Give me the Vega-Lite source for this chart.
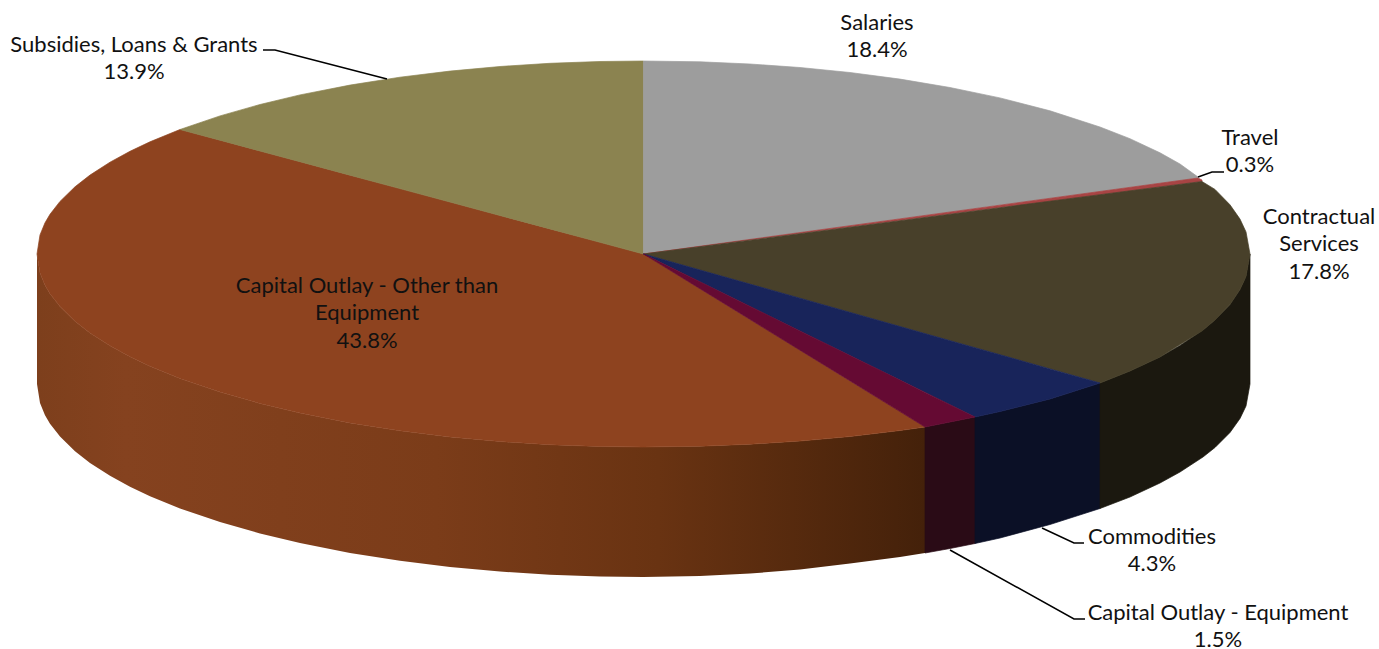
{"$schema":"https://vega.github.io/schema/vega-lite/v6.json","width":1379,"height":649,"padding":0,"autosize":{"type":"none"},"background":"white","view":{"stroke":null},
"datasets":{"pieces":[
{"piece":"Side Other","x":37,"y":254,"y2":384},{"piece":"Side Other","x":40,"y":273.1,"y2":403.1},{"piece":"Side Other","x":45,"y":285.2,"y2":415.2},{"piece":"Side Other","x":50,"y":293.7,"y2":423.7},{"piece":"Side Other","x":60,"y":306.6,"y2":436.6},{"piece":"Side Other","x":75,"y":321.2,"y2":451.2},{"piece":"Side Other","x":90,"y":332.9,"y2":462.9},{"piece":"Side Other","x":110,"y":345.8,"y2":475.8},{"piece":"Side Other","x":130,"y":356.7,"y2":486.7},{"piece":"Side Other","x":150,"y":366.2,"y2":496.2},{"piece":"Side Other","x":180,"y":378.5,"y2":508.5},{"piece":"Side Other","x":220,"y":392.1,"y2":522.1},{"piece":"Side Other","x":260,"y":403.5,"y2":533.5},{"piece":"Side Other","x":300,"y":413.1,"y2":543.1},{"piece":"Side Other","x":350,"y":422.9,"y2":552.9},{"piece":"Side Other","x":400,"y":430.8,"y2":560.8},{"piece":"Side Other","x":450,"y":436.9,"y2":566.9},{"piece":"Side Other","x":500,"y":441.5,"y2":571.5},{"piece":"Side Other","x":550,"y":444.7,"y2":574.7},{"piece":"Side Other","x":600,"y":446.5,"y2":576.5},{"piece":"Side Other","x":643.5,"y":447,"y2":577},{"piece":"Side Other","x":700,"y":446.2,"y2":576},{"piece":"Side Other","x":750,"y":444.2,"y2":573.6},{"piece":"Side Other","x":800,"y":441,"y2":569.5},{"piece":"Side Other","x":850,"y":436.5,"y2":563.5},{"piece":"Side Other","x":900,"y":430.5,"y2":557},{"piece":"Side Other","x":925,"y":427,"y2":553},
{"piece":"Side Equipment","x":925,"y":427,"y2":553},{"piece":"Side Equipment","x":950,"y":422,"y2":548.5},{"piece":"Side Equipment","x":975,"y":417,"y2":543.5},
{"piece":"Side Commodities","x":975,"y":417,"y2":543.5},{"piece":"Side Commodities","x":1000,"y":411.5,"y2":538},{"piece":"Side Commodities","x":1050,"y":399,"y2":524.5},{"piece":"Side Commodities","x":1100,"y":383,"y2":508.5},
{"piece":"Side Contractual","x":1100,"y":383,"y2":508.5},{"piece":"Side Contractual","x":1130,"y":371,"y2":497},{"piece":"Side Contractual","x":1160,"y":357,"y2":483},{"piece":"Side Contractual","x":1180,"y":345.5,"y2":472},{"piece":"Side Contractual","x":1203,"y":330,"y2":457},{"piece":"Side Contractual","x":1215,"y":320,"y2":447.5},{"piece":"Side Contractual","x":1230,"y":304.5,"y2":432.5},{"piece":"Side Contractual","x":1240,"y":289.5,"y2":418.5},{"piece":"Side Contractual","x":1246,"y":276.5,"y2":406},{"piece":"Side Contractual","x":1250,"y":254,"y2":384},
{"piece":"Capital Outlay - Other than Equipment","x":37,"y":254,"y2":254},{"piece":"Capital Outlay - Other than Equipment","x":40,"y":234.9,"y2":273.1},{"piece":"Capital Outlay - Other than Equipment","x":45,"y":222.8,"y2":285.2},{"piece":"Capital Outlay - Other than Equipment","x":50,"y":214.3,"y2":293.7},{"piece":"Capital Outlay - Other than Equipment","x":60,"y":201.4,"y2":306.6},{"piece":"Capital Outlay - Other than Equipment","x":75,"y":186.8,"y2":321.2},{"piece":"Capital Outlay - Other than Equipment","x":90,"y":175.1,"y2":332.9},{"piece":"Capital Outlay - Other than Equipment","x":110,"y":162.2,"y2":345.8},{"piece":"Capital Outlay - Other than Equipment","x":130,"y":151.3,"y2":356.7},{"piece":"Capital Outlay - Other than Equipment","x":150,"y":141.8,"y2":366.2},{"piece":"Capital Outlay - Other than Equipment","x":180,"y":129.5,"y2":378.5},{"piece":"Capital Outlay - Other than Equipment","x":220,"y":140.2,"y2":392.1},{"piece":"Capital Outlay - Other than Equipment","x":260,"y":151,"y2":403.5},{"piece":"Capital Outlay - Other than Equipment","x":300,"y":161.7,"y2":413.1},{"piece":"Capital Outlay - Other than Equipment","x":350,"y":175.2,"y2":422.9},{"piece":"Capital Outlay - Other than Equipment","x":400,"y":188.6,"y2":430.8},{"piece":"Capital Outlay - Other than Equipment","x":450,"y":202,"y2":436.9},{"piece":"Capital Outlay - Other than Equipment","x":500,"y":215.5,"y2":441.5},{"piece":"Capital Outlay - Other than Equipment","x":550,"y":228.9,"y2":444.7},{"piece":"Capital Outlay - Other than Equipment","x":600,"y":242.3,"y2":446.5},{"piece":"Capital Outlay - Other than Equipment","x":643.5,"y":254,"y2":447},{"piece":"Capital Outlay - Other than Equipment","x":700,"y":288.7,"y2":446.2},{"piece":"Capital Outlay - Other than Equipment","x":750,"y":319.4,"y2":444.2},{"piece":"Capital Outlay - Other than Equipment","x":800,"y":350.2,"y2":441},{"piece":"Capital Outlay - Other than Equipment","x":850,"y":380.9,"y2":436.5},{"piece":"Capital Outlay - Other than Equipment","x":900,"y":411.6,"y2":430.5},{"piece":"Capital Outlay - Other than Equipment","x":925,"y":427,"y2":427},
{"piece":"Subsidies, Loans & Grants","x":180,"y":129.5,"y2":129.5},{"piece":"Subsidies, Loans & Grants","x":220,"y":115.9,"y2":140.2},{"piece":"Subsidies, Loans & Grants","x":260,"y":104.5,"y2":151},{"piece":"Subsidies, Loans & Grants","x":300,"y":94.9,"y2":161.7},{"piece":"Subsidies, Loans & Grants","x":350,"y":85.1,"y2":175.2},{"piece":"Subsidies, Loans & Grants","x":400,"y":77.2,"y2":188.6},{"piece":"Subsidies, Loans & Grants","x":450,"y":71.1,"y2":202},{"piece":"Subsidies, Loans & Grants","x":500,"y":66.5,"y2":215.5},{"piece":"Subsidies, Loans & Grants","x":550,"y":63.3,"y2":228.9},{"piece":"Subsidies, Loans & Grants","x":600,"y":61.5,"y2":242.3},{"piece":"Subsidies, Loans & Grants","x":643.5,"y":61,"y2":254},
{"piece":"Salaries","x":643.5,"y":61,"y2":254},{"piece":"Salaries","x":700,"y":61.8,"y2":246.3},{"piece":"Salaries","x":750,"y":64,"y2":239.4},{"piece":"Salaries","x":800,"y":67.5,"y2":232.6},{"piece":"Salaries","x":850,"y":72.5,"y2":225.7},{"piece":"Salaries","x":900,"y":79.1,"y2":218.8},{"piece":"Salaries","x":950,"y":87.5,"y2":212},{"piece":"Salaries","x":1000,"y":97.9,"y2":205.1},{"piece":"Salaries","x":1050,"y":110.8,"y2":198.3},{"piece":"Salaries","x":1100,"y":127,"y2":191.4},{"piece":"Salaries","x":1130,"y":138.7,"y2":187.3},{"piece":"Salaries","x":1160,"y":152.8,"y2":183.2},{"piece":"Salaries","x":1180,"y":164,"y2":180.5},{"piece":"Salaries","x":1198,"y":177,"y2":178},
{"piece":"Travel","x":643.5,"y":254,"y2":254},{"piece":"Travel","x":1198,"y":178,"y2":182},{"piece":"Travel","x":1202,"y":180,"y2":181.5},
{"piece":"Contractual Services","x":643.5,"y":254,"y2":254},{"piece":"Contractual Services","x":700,"y":246.7,"y2":270},{"piece":"Contractual Services","x":800,"y":233.7,"y2":298.2},{"piece":"Contractual Services","x":900,"y":220.7,"y2":326.5},{"piece":"Contractual Services","x":1000,"y":207.7,"y2":354.7},{"piece":"Contractual Services","x":1100,"y":194.7,"y2":383},{"piece":"Contractual Services","x":1130,"y":190.8,"y2":371},{"piece":"Contractual Services","x":1160,"y":186.9,"y2":357},{"piece":"Contractual Services","x":1202,"y":181.5,"y2":331},{"piece":"Contractual Services","x":1215,"y":189.4,"y2":320},{"piece":"Contractual Services","x":1230,"y":204.8,"y2":304.5},{"piece":"Contractual Services","x":1240,"y":219.1,"y2":289.5},{"piece":"Contractual Services","x":1246,"y":231.9,"y2":276.5},{"piece":"Contractual Services","x":1250,"y":254,"y2":254},
{"piece":"Commodities","x":643.5,"y":254,"y2":254},{"piece":"Commodities","x":700,"y":270,"y2":281.8},{"piece":"Commodities","x":800,"y":298.2,"y2":331},{"piece":"Commodities","x":900,"y":326.5,"y2":380.1},{"piece":"Commodities","x":975,"y":347.7,"y2":417},{"piece":"Commodities","x":1000,"y":354.7,"y2":411.5},{"piece":"Commodities","x":1050,"y":368.9,"y2":399},{"piece":"Commodities","x":1100,"y":383,"y2":383},
{"piece":"Capital Outlay - Equipment","x":643.5,"y":254,"y2":254},{"piece":"Capital Outlay - Equipment","x":700,"y":281.8,"y2":288.7},{"piece":"Capital Outlay - Equipment","x":800,"y":331,"y2":350.2},{"piece":"Capital Outlay - Equipment","x":900,"y":380.1,"y2":411.6},{"piece":"Capital Outlay - Equipment","x":925,"y":392.4,"y2":427},{"piece":"Capital Outlay - Equipment","x":950,"y":404.7,"y2":422},{"piece":"Capital Outlay - Equipment","x":975,"y":417,"y2":417}
],
"leaders":[
{"leader":"Subsidies","step":1,"x":263,"y":50},{"leader":"Subsidies","step":2,"x":275,"y":50},{"leader":"Subsidies","step":3,"x":387,"y":79},
{"leader":"Travel","step":1,"x":1198,"y":177},{"leader":"Travel","step":2,"x":1212,"y":172},{"leader":"Travel","step":3,"x":1224,"y":172},
{"leader":"Commodities","step":1,"x":1042,"y":528},{"leader":"Commodities","step":2,"x":1074,"y":543},{"leader":"Commodities","step":3,"x":1084,"y":543},
{"leader":"Equipment","step":1,"x":950,"y":550},{"leader":"Equipment","step":2,"x":1074,"y":619},{"leader":"Equipment","step":3,"x":1085,"y":619}
],
"labels":[
{"label":"Salaries\n18.4%","x":877,"y":22.5},
{"label":"Travel\n0.3%","x":1250,"y":137.5},
{"label":"Contractual\nServices\n17.8%","x":1319,"y":216.5},
{"label":"Commodities\n4.3%","x":1152,"y":536.5},
{"label":"Capital Outlay - Equipment\n1.5%","x":1218,"y":612.5},
{"label":"Capital Outlay - Other than\nEquipment\n43.8%","x":367,"y":285.5},
{"label":"Subsidies, Loans & Grants\n13.9%","x":134,"y":44.5}
]},
"encoding":{},
"layer":[
{"data":{"name":"pieces"},"transform":[{"filter":"datum.piece === 'Side Other'"}],
"mark":{"type":"area","color":{"gradient":"linear","x1":0,"y1":0,"x2":1,"y2":0,"stops":[{"offset":0,"color":"#7d3f1c"},{"offset":0.1,"color":"#85421f"},{"offset":0.45,"color":"#7b3c19"},{"offset":0.7,"color":"#693312"},{"offset":1,"color":"#44210a"}]}},
"encoding":{"x":{"field":"x","type":"quantitative","scale":{"domain":[0,1379]},"axis":null},"y":{"field":"y","type":"quantitative","scale":{"domain":[649,0]},"axis":null},"y2":{"field":"y2"}}},
{"data":{"name":"pieces"},"transform":[{"filter":"datum.piece !== 'Side Other'"}],
"mark":{"type":"area","strokeWidth":0.7},
"encoding":{"x":{"field":"x","type":"quantitative","scale":{"domain":[0,1379]},"axis":null},"y":{"field":"y","type":"quantitative","scale":{"domain":[649,0]},"axis":null},"y2":{"field":"y2"},
"color":{"field":"piece","type":"nominal","legend":null,"scale":{"domain":["Side Equipment","Side Commodities","Side Contractual","Capital Outlay - Other than Equipment","Subsidies, Loans & Grants","Salaries","Travel","Contractual Services","Commodities","Capital Outlay - Equipment"],"range":["#2a0b16","#0b1026","#1b180f","#8e431f","#8b8350","#9d9d9d","#a84444","#48402a","#18245a","#650a33"]}},
"stroke":{"field":"piece","type":"nominal","legend":null,"scale":{"domain":["Side Equipment","Side Commodities","Side Contractual","Capital Outlay - Other than Equipment","Subsidies, Loans & Grants","Salaries","Travel","Contractual Services","Commodities","Capital Outlay - Equipment"],"range":["#2a0b16","#0b1026","#1b180f","#8e431f","#8b8350","#9d9d9d","#a84444","#48402a","#18245a","#650a33"]}}}},
{"data":{"name":"leaders"},"mark":{"type":"line","color":"#000000","strokeWidth":1.5},
"encoding":{"x":{"field":"x","type":"quantitative","scale":{"domain":[0,1379]},"axis":null},"y":{"field":"y","type":"quantitative","scale":{"domain":[649,0]},"axis":null},"detail":{"field":"leader"},"order":{"field":"step"}}},
{"data":{"name":"labels"},"mark":{"type":"text","font":"Lato","fontSize":22,"color":"#111111","align":"center","baseline":"middle","lineBreak":"\n","lineHeight":27.5},
"encoding":{"x":{"field":"x","type":"quantitative","scale":{"domain":[0,1379]},"axis":null},"y":{"field":"y","type":"quantitative","scale":{"domain":[649,0]},"axis":null},"text":{"field":"label"}}}
]}
